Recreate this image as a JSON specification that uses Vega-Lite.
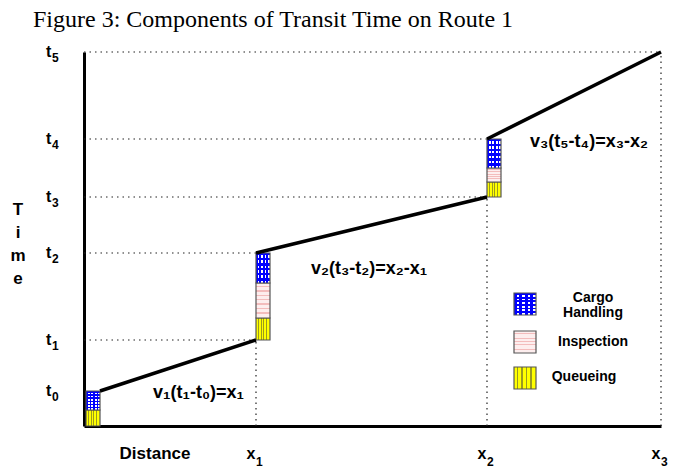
{
  "$schema": "https://vega.github.io/schema/vega-lite/v6.json",
  "width": 577,
  "height": 374,
  "autosize": {"type": "none"},
  "padding": {"left": 84, "top": 52, "right": 13, "bottom": 43},
  "background": "white",
  "title": {
    "text": "Figure 3: Components of Transit Time on Route 1",
    "anchor": "start",
    "frame": "group",
    "dx": -51,
    "offset": -7,
    "baseline": "alphabetic",
    "font": "Liberation Serif",
    "fontSize": 24,
    "fontWeight": "normal",
    "color": "black"
  },
  "config": {
    "view": {"stroke": null},
    "axis": {"grid": false, "ticks": false, "labels": false, "domainColor": "black", "domainWidth": 3}
  },
  "datasets": {
    "guides": [
      {"x": 0, "y": 86, "x2": 172, "y2": 86},
      {"x": 0, "y": 173, "x2": 172, "y2": 173},
      {"x": 0, "y": 229, "x2": 403, "y2": 229},
      {"x": 0, "y": 287, "x2": 403, "y2": 287},
      {"x": 0, "y": 374, "x2": 577, "y2": 374},
      {"x": 172, "y": 0, "x2": 172, "y2": 86},
      {"x": 403, "y": 0, "x2": 403, "y2": 229},
      {"x": 577, "y": 0, "x2": 577, "y2": 374}
    ],
    "segments": [
      {"x": 16, "y": 35, "x2": 172, "y2": 86},
      {"x": 172, "y": 173, "x2": 403, "y2": 229},
      {"x": 403, "y": 287, "x2": 577, "y2": 374}
    ],
    "boxes": [
      {"cat": "Queueing", "x": 2, "x2": 16, "y": 0, "y2": 16},
      {"cat": "Cargo Handling", "x": 2, "x2": 16, "y": 16, "y2": 35},
      {"cat": "Queueing", "x": 172, "x2": 186, "y": 86, "y2": 108},
      {"cat": "Inspection", "x": 172, "x2": 186, "y": 108, "y2": 143},
      {"cat": "Cargo Handling", "x": 172, "x2": 186, "y": 143, "y2": 173},
      {"cat": "Queueing", "x": 403, "x2": 417, "y": 229, "y2": 244},
      {"cat": "Inspection", "x": 403, "x2": 417, "y": 244, "y2": 258},
      {"cat": "Cargo Handling", "x": 403, "x2": 417, "y": 258, "y2": 287},
      {"cat": "Cargo Handling", "x": 430, "x2": 452, "y": 111, "y2": 133},
      {"cat": "Inspection", "x": 430, "x2": 452, "y": 73, "y2": 95},
      {"cat": "Queueing", "x": 430, "x2": 452, "y": 37, "y2": 59}
    ],
    "legendText": [
      {"x": 509, "y": 128, "label": "Cargo\nHandling"},
      {"x": 509, "y": 84, "label": "Inspection"},
      {"x": 500, "y": 49, "label": "Queueing"}
    ],
    "axisTitles": [
      {"x": 71, "y": -28, "label": "Distance"},
      {"x": -66, "y": 216, "label": "T\ni\nm\ne"}
    ],
    "notes": [
      {"x": 69, "y": 28, "label": "v₁(t₁-t₀)=x₁"},
      {"x": 227, "y": 152, "label": "v₂(t₃-t₂)=x₂-x₁"},
      {"x": 446, "y": 279, "label": "v₃(t₅-t₄)=x₃-x₂"}
    ],
    "tTicks": [
      {"x": 0, "y": 35, "n": "0"},
      {"x": 0, "y": 86, "n": "1"},
      {"x": 0, "y": 173, "n": "2"},
      {"x": 0, "y": 229, "n": "3"},
      {"x": 0, "y": 287, "n": "4"},
      {"x": 0, "y": 374, "n": "5"}
    ],
    "xTicks": [
      {"x": 172, "y": 0, "n": "1"},
      {"x": 403, "y": 0, "n": "2"},
      {"x": 577, "y": 0, "n": "3"}
    ]
  },
  "encoding": {
    "x": {"field": "x", "type": "quantitative", "scale": {"domain": [0, 577], "nice": false, "zero": false}, "axis": {"title": null}},
    "y": {"field": "y", "type": "quantitative", "scale": {"domain": [0, 374], "nice": false, "zero": false}, "axis": {"title": null}}
  },
  "layer": [
    {
      "data": {"name": "guides"},
      "mark": {"type": "rule", "strokeDash": [1.5, 4], "strokeWidth": 1.2, "color": "#222222"},
      "encoding": {"x2": {"field": "x2"}, "y2": {"field": "y2"}}
    },
    {
      "data": {"name": "boxes"},
      "transform": [{"filter": "datum.cat === 'Queueing'"}],
      "mark": {
        "type": "rect", "stroke": "#555555", "strokeWidth": 1.2,
        "fill": {"gradient": "linear", "x1": 0, "y1": 0, "x2": 1, "y2": 0, "stops": [
          {"offset": 0, "color": "#ffff00"}, {"offset": 0.13, "color": "#ffff00"}, {"offset": 0.13, "color": "#9a9a20"}, {"offset": 0.2, "color": "#9a9a20"},
          {"offset": 0.2, "color": "#ffff00"}, {"offset": 0.33, "color": "#ffff00"}, {"offset": 0.33, "color": "#9a9a20"}, {"offset": 0.4, "color": "#9a9a20"},
          {"offset": 0.4, "color": "#ffff00"}, {"offset": 0.53, "color": "#ffff00"}, {"offset": 0.53, "color": "#9a9a20"}, {"offset": 0.6, "color": "#9a9a20"},
          {"offset": 0.6, "color": "#ffff00"}, {"offset": 0.73, "color": "#ffff00"}, {"offset": 0.73, "color": "#9a9a20"}, {"offset": 0.8, "color": "#9a9a20"},
          {"offset": 0.8, "color": "#ffff00"}, {"offset": 1, "color": "#ffff00"}
        ]}
      },
      "encoding": {"x2": {"field": "x2"}, "y2": {"field": "y2"}}
    },
    {
      "data": {"name": "boxes"},
      "transform": [{"filter": "datum.cat === 'Inspection'"}],
      "mark": {
        "type": "rect", "stroke": "#555555", "strokeWidth": 1.2,
        "fill": {"gradient": "linear", "x1": 0, "y1": 0, "x2": 0, "y2": 1, "stops": [
          {"offset": 0, "color": "#fdeeee"}, {"offset": 0.08, "color": "#fdeeee"}, {"offset": 0.08, "color": "#f3bcbc"}, {"offset": 0.125, "color": "#f3bcbc"},
          {"offset": 0.125, "color": "#fdeeee"}, {"offset": 0.205, "color": "#fdeeee"}, {"offset": 0.205, "color": "#f3bcbc"}, {"offset": 0.25, "color": "#f3bcbc"},
          {"offset": 0.25, "color": "#fdeeee"}, {"offset": 0.33, "color": "#fdeeee"}, {"offset": 0.33, "color": "#f3bcbc"}, {"offset": 0.375, "color": "#f3bcbc"},
          {"offset": 0.375, "color": "#fdeeee"}, {"offset": 0.455, "color": "#fdeeee"}, {"offset": 0.455, "color": "#f3bcbc"}, {"offset": 0.5, "color": "#f3bcbc"},
          {"offset": 0.5, "color": "#fdeeee"}, {"offset": 0.58, "color": "#fdeeee"}, {"offset": 0.58, "color": "#f3bcbc"}, {"offset": 0.625, "color": "#f3bcbc"},
          {"offset": 0.625, "color": "#fdeeee"}, {"offset": 0.705, "color": "#fdeeee"}, {"offset": 0.705, "color": "#f3bcbc"}, {"offset": 0.75, "color": "#f3bcbc"},
          {"offset": 0.75, "color": "#fdeeee"}, {"offset": 0.83, "color": "#fdeeee"}, {"offset": 0.83, "color": "#f3bcbc"}, {"offset": 0.875, "color": "#f3bcbc"},
          {"offset": 0.875, "color": "#fdeeee"}, {"offset": 1, "color": "#fdeeee"}
        ]}
      },
      "encoding": {"x2": {"field": "x2"}, "y2": {"field": "y2"}}
    },
    {
      "data": {"name": "boxes"},
      "transform": [{"filter": "datum.cat === 'Cargo Handling'"}],
      "mark": {
        "type": "rect",
        "fill": {"gradient": "linear", "x1": 0, "y1": 0, "x2": 1, "y2": 0, "stops": [
          {"offset": 0, "color": "#0000ff"}, {"offset": 0.125, "color": "#0000ff"}, {"offset": 0.125, "color": "#ffffff"}, {"offset": 0.25, "color": "#ffffff"},
          {"offset": 0.25, "color": "#0000ff"}, {"offset": 0.375, "color": "#0000ff"}, {"offset": 0.375, "color": "#ffffff"}, {"offset": 0.5, "color": "#ffffff"},
          {"offset": 0.5, "color": "#0000ff"}, {"offset": 0.625, "color": "#0000ff"}, {"offset": 0.625, "color": "#ffffff"}, {"offset": 0.75, "color": "#ffffff"},
          {"offset": 0.75, "color": "#0000ff"}, {"offset": 0.875, "color": "#0000ff"}, {"offset": 0.875, "color": "#ffffff"}, {"offset": 1, "color": "#ffffff"}
        ]}
      },
      "encoding": {"x2": {"field": "x2"}, "y2": {"field": "y2"}}
    },
    {
      "data": {"name": "boxes"},
      "transform": [{"filter": "datum.cat === 'Cargo Handling'"}],
      "mark": {
        "type": "rect", "stroke": "#555555", "strokeWidth": 1.2,
        "fill": {"gradient": "linear", "x1": 0, "y1": 0, "x2": 0, "y2": 1, "stops": [
          {"offset": 0, "color": "rgba(0,0,255,1)"}, {"offset": 0.0833, "color": "rgba(0,0,255,1)"}, {"offset": 0.0833, "color": "rgba(0,0,255,0)"}, {"offset": 0.1667, "color": "rgba(0,0,255,0)"},
          {"offset": 0.1667, "color": "rgba(0,0,255,1)"}, {"offset": 0.25, "color": "rgba(0,0,255,1)"}, {"offset": 0.25, "color": "rgba(0,0,255,0)"}, {"offset": 0.3333, "color": "rgba(0,0,255,0)"},
          {"offset": 0.3333, "color": "rgba(0,0,255,1)"}, {"offset": 0.4167, "color": "rgba(0,0,255,1)"}, {"offset": 0.4167, "color": "rgba(0,0,255,0)"}, {"offset": 0.5, "color": "rgba(0,0,255,0)"},
          {"offset": 0.5, "color": "rgba(0,0,255,1)"}, {"offset": 0.5833, "color": "rgba(0,0,255,1)"}, {"offset": 0.5833, "color": "rgba(0,0,255,0)"}, {"offset": 0.6667, "color": "rgba(0,0,255,0)"},
          {"offset": 0.6667, "color": "rgba(0,0,255,1)"}, {"offset": 0.75, "color": "rgba(0,0,255,1)"}, {"offset": 0.75, "color": "rgba(0,0,255,0)"}, {"offset": 0.8333, "color": "rgba(0,0,255,0)"},
          {"offset": 0.8333, "color": "rgba(0,0,255,1)"}, {"offset": 0.9167, "color": "rgba(0,0,255,1)"}, {"offset": 0.9167, "color": "rgba(0,0,255,0)"}, {"offset": 1, "color": "rgba(0,0,255,0)"}
        ]}
      },
      "encoding": {"x2": {"field": "x2"}, "y2": {"field": "y2"}}
    },
    {
      "data": {"name": "segments"},
      "mark": {"type": "rule", "strokeWidth": 3.5, "color": "black"},
      "encoding": {"x2": {"field": "x2"}, "y2": {"field": "y2"}}
    },
    {
      "data": {"name": "tTicks"},
      "mark": {"type": "text", "text": "t", "align": "left", "baseline": "middle", "dx": -38, "dy": 0, "font": "Liberation Sans", "fontWeight": "bold", "fontSize": 16, "color": "black"}
    },
    {
      "data": {"name": "tTicks"},
      "mark": {"type": "text", "align": "left", "baseline": "middle", "dx": -32, "dy": 6, "font": "Liberation Sans", "fontWeight": "bold", "fontSize": 12, "color": "black"},
      "encoding": {"text": {"field": "n"}}
    },
    {
      "data": {"name": "xTicks"},
      "mark": {"type": "text", "text": "x", "align": "center", "baseline": "alphabetic", "dx": -5, "dy": 33, "font": "Liberation Sans", "fontWeight": "bold", "fontSize": 16, "color": "black"}
    },
    {
      "data": {"name": "xTicks"},
      "mark": {"type": "text", "align": "left", "baseline": "alphabetic", "dx": 0, "dy": 40, "font": "Liberation Sans", "fontWeight": "bold", "fontSize": 12, "color": "black"},
      "encoding": {"text": {"field": "n"}}
    },
    {
      "data": {"name": "notes"},
      "mark": {"type": "text", "align": "left", "baseline": "alphabetic", "font": "Liberation Sans", "fontWeight": "bold", "fontSize": 18, "color": "black"},
      "encoding": {"text": {"field": "label"}}
    },
    {
      "data": {"name": "axisTitles"},
      "mark": {"type": "text", "align": "center", "baseline": "middle", "lineBreak": "\n", "lineHeight": 23, "font": "Liberation Sans", "fontWeight": "bold", "fontSize": 17, "color": "black"},
      "encoding": {"text": {"field": "label"}}
    },
    {
      "data": {"name": "legendText"},
      "mark": {"type": "text", "align": "center", "baseline": "middle", "lineBreak": "\n", "lineHeight": 15, "font": "Liberation Sans", "fontWeight": "bold", "fontSize": 14, "color": "black"},
      "encoding": {"text": {"field": "label"}}
    }
  ]
}
